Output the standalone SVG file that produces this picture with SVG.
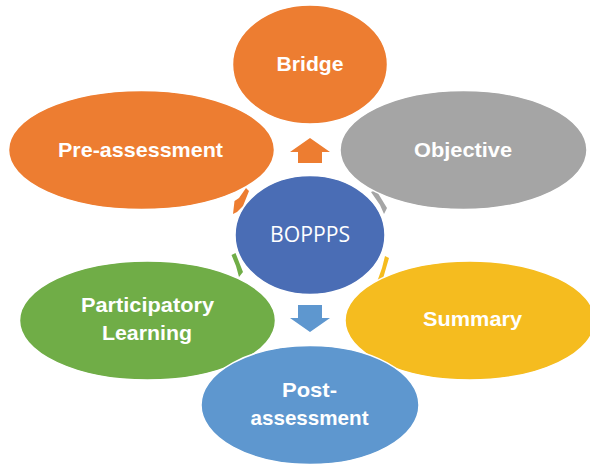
<svg xmlns="http://www.w3.org/2000/svg" width="590" height="466" viewBox="0 0 590 466">
  <style>
    .node { stroke: #ffffff; stroke-width: 1.5; }
    .lbl { font-family: "Liberation Sans", Arial, sans-serif; font-weight: bold; font-size: 21px; fill: #ffffff; text-anchor: middle; }
    .hub { font-family: "Open Sans", "Liberation Sans", sans-serif; font-weight: normal; font-size: 22px; fill: #ffffff; text-anchor: middle; }
  </style>
  <rect width="590" height="466" fill="#ffffff"/>

  <!-- cycle arrow fragments and block arrows -->
  <g id="connectors">
    <polygon points="233,214 234.5,201 239,198 246,188 249,191 243,206 237,212" fill="#ED7D31"/>
    <polygon points="371,192 376,190 387,208 384,214 380,205" fill="#A5A5A5"/>
    <polygon points="231.5,255 235.5,253 243,272 239,277 236,266" fill="#70AD47"/>
    <polygon points="385,256 389,258 382,282 377,282 382,268" fill="#F5BC1F"/>
    <!-- up arrow toward Bridge -->
    <polygon points="310,138 330,152 322,152 322,163 298,163 298,152 290,152" fill="#ED7D31"/>
    <!-- down arrow toward Post-assessment -->
    <polygon points="298,305 322,305 322,318 330,318 310,332 290,318 298,318" fill="#5E97CF"/>
  </g>

  <g id="bridge">
    <ellipse class="node" cx="310" cy="64.5" rx="77.5" ry="59.5" fill="#ED7D31"/>
    <text class="lbl" x="310" y="71" textLength="67" lengthAdjust="spacingAndGlyphs">Bridge</text>
  </g>

  <g id="objective">
    <ellipse class="node" cx="463.5" cy="150" rx="123.5" ry="59.5" fill="#A5A5A5"/>
    <text class="lbl" x="463" y="156.5" textLength="98" lengthAdjust="spacingAndGlyphs">Objective</text>
  </g>

  <g id="pre-assessment">
    <ellipse class="node" cx="141.5" cy="150" rx="133" ry="59.5" fill="#ED7D31"/>
    <text class="lbl" x="140.5" y="156.5" textLength="165" lengthAdjust="spacingAndGlyphs">Pre-assessment</text>
  </g>

  <g id="boppps">
    <ellipse class="node" cx="310" cy="235" rx="75" ry="59.5" fill="#4A6DB5"/>
    <text class="hub" x="310" y="241.5" textLength="80" lengthAdjust="spacingAndGlyphs">BOPPPS</text>
  </g>

  <g id="summary">
    <ellipse class="node" cx="470" cy="320.5" rx="125" ry="59.5" fill="#F5BC1F"/>
    <text class="lbl" x="472.5" y="325.5" textLength="99" lengthAdjust="spacingAndGlyphs">Summary</text>
  </g>

  <g id="participatory-learning">
    <ellipse class="node" cx="147.5" cy="320.5" rx="128" ry="59.5" fill="#70AD47"/>
    <text class="lbl" x="147.5" y="311.5" textLength="133" lengthAdjust="spacingAndGlyphs">Participatory</text>
    <text class="lbl" x="147" y="340" textLength="90" lengthAdjust="spacingAndGlyphs">Learning</text>
  </g>

  <g id="post-assessment">
    <ellipse class="node" cx="310" cy="405" rx="109" ry="59.5" fill="#5E97CF"/>
    <text class="lbl" x="309.5" y="396.5" textLength="55" lengthAdjust="spacingAndGlyphs">Post-</text>
    <text class="lbl" x="309.5" y="425" textLength="118" lengthAdjust="spacingAndGlyphs">assessment</text>
  </g>
</svg>
